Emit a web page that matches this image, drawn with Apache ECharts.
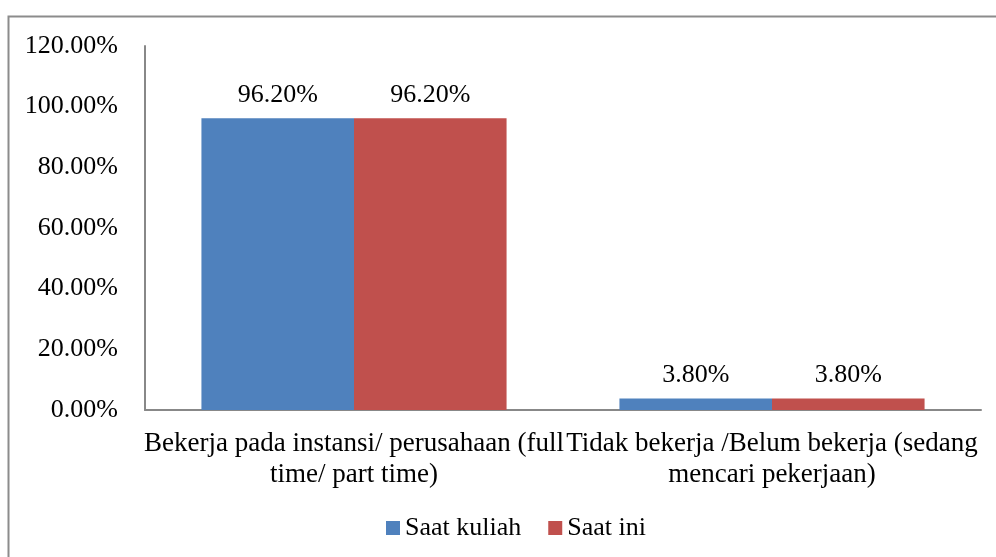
<!DOCTYPE html>
<html>
<head>
<meta charset="utf-8">
<script src="https://cdn.jsdelivr.net/npm/echarts@6/dist/echarts.min.js"></script>
<style>
  html, body { margin: 0; padding: 0; background: #fff; }
  #main { width: 996px; height: 557px; }
</style>
</head>
<body>
<div id="main"></div>
<script>
const categories = [
  'Bekerja pada instansi/ perusahaan (full\ntime/ part time)',
  'Tidak bekerja /Belum bekerja (sedang\nmencari pekerjaan)'
];
const seriesNames = ['Saat kuliah', 'Saat ini'];
const saatKuliah = [96.2, 3.8];
const saatIni = [96.2, 3.8];
const colors = ['#4F81BD', '#C0504D'];

const font = 'Liberation Serif';
const pct = v => v.toFixed(2) + '%';

const myChart = echarts.init(document.getElementById('main'));
myChart.setOption({
  animation: false,
  color: colors,
  textStyle: { fontFamily: font },
  graphic: [{
    type: 'rect',
    shape: { x: 8.5, y: 16.5, width: 1000, height: 600 },
    style: { fill: 'none', stroke: '#8c8c8c', lineWidth: 2 },
    silent: true
  }],
  grid: { left: 145, right: 15, top: 46, bottom: 147 },
  legend: {
    bottom: 11,
    left: 381,
    icon: 'rect',
    itemWidth: 14,
    itemHeight: 14,
    itemGap: 27,
    textStyle: { fontFamily: font, fontSize: 26, color: '#000' },
    data: seriesNames
  },
  xAxis: {
    type: 'category',
    data: categories,
    axisLine: { lineStyle: { color: '#888', width: 2 } },
    axisTick: { show: false },
    axisLabel: {
      interval: 0,
      margin: 18,
      fontFamily: font,
      fontSize: 27,
      lineHeight: 31,
      color: '#000',
      align: 'center'
    }
  },
  yAxis: {
    type: 'value',
    min: 0,
    max: 120,
    interval: 20,
    axisLine: { show: true, lineStyle: { color: '#888', width: 2 } },
    axisTick: { show: false },
    splitLine: { show: false },
    axisLabel: {
      margin: 27,
      fontFamily: font,
      fontSize: 26,
      color: '#000',
      formatter: pct
    }
  },
  series: [
    {
      name: seriesNames[0],
      type: 'bar',
      data: saatKuliah,
      barGap: '0%',
      barCategoryGap: '27%',
      label: {
        show: true, position: 'top', distance: 10,
        fontFamily: font, fontSize: 26, color: '#000',
        formatter: p => pct(p.value)
      }
    },
    {
      name: seriesNames[1],
      type: 'bar',
      data: saatIni,
      barGap: '0%',
      barCategoryGap: '27%',
      label: {
        show: true, position: 'top', distance: 10,
        fontFamily: font, fontSize: 26, color: '#000',
        formatter: p => pct(p.value)
      }
    }
  ]
});
</script>
</body>
</html>
